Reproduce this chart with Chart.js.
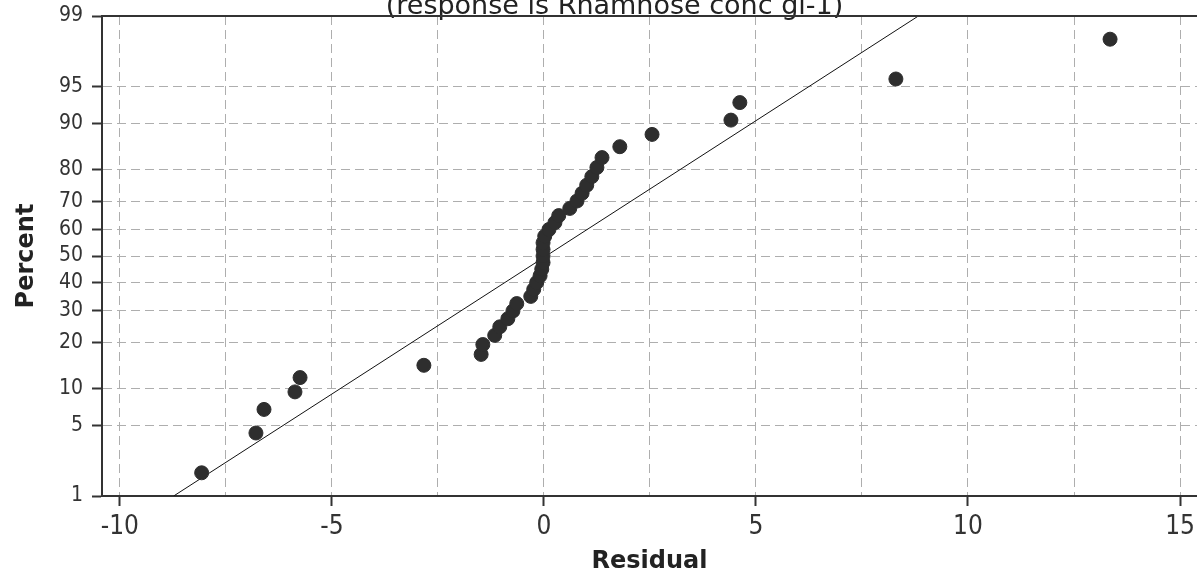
<!DOCTYPE html>
<html>
<head>
<meta charset="utf-8">
<script src="https://cdn.jsdelivr.net/npm/chart.js@4.4.0/dist/chart.umd.min.js"></script>
<style>
  html, body { margin: 0; padding: 0; background: #fff; overflow: hidden; }
  #wrap { position: relative; width: 1197px; height: 577px; }
</style>
</head>
<body>
<div id="wrap"><canvas id="probPlot" width="1197" height="577"></canvas></div>
<script>
// normal probability plot of residuals (percent axis is a normal-quantile scale)
const subtitle = '(response is Rhamnose conc gl-1)';

const residuals = [
  -8.07, -6.79, -6.60, -5.87, -5.75, -2.83, -1.48, -1.44, -1.16, -1.04,
  -0.85, -0.73, -0.64, -0.31, -0.24, -0.17, -0.09, -0.05, -0.02, -0.02,
  -0.02, -0.02, 0.02, 0.12, 0.26, 0.35, 0.61, 0.78, 0.90, 1.01,
  1.13, 1.25, 1.37, 1.79, 2.55, 4.41, 4.62, 8.30, 13.35
];
const percents = [
  1.78, 4.31, 6.85, 9.39, 11.93, 14.47, 17.01, 19.54, 22.08, 24.62,
  27.16, 29.70, 32.23, 34.77, 37.31, 39.85, 42.39, 44.92, 47.46, 50.00,
  52.54, 55.08, 57.61, 60.15, 62.69, 65.23, 67.77, 70.30, 72.84, 75.38,
  77.92, 80.46, 82.99, 85.53, 88.07, 90.61, 93.15, 95.69, 98.22
];

const fitResidual = [-8.73, 8.83];
const fitPercent = [1, 99];

const xTicks = [-10, -7.5, -5, -2.5, 0, 2.5, 5, 7.5, 10, 12.5, 15];
const xTickLabels = ['-10', '', '-5', '', '0', '', '5', '', '10', '', '15'];
const yTickPercents = [1, 5, 10, 20, 30, 40, 50, 60, 70, 80, 90, 95, 99];

// inverse normal cdf (Acklam)
function probit(pct) {
  const p = pct / 100;
  const a = [-3.969683028665376e+01, 2.209460984245205e+02, -2.759285104469687e+02, 1.383577518672690e+02, -3.066479806614716e+01, 2.506628277459239e+00];
  const b = [-5.447609879822406e+01, 1.615858368580409e+02, -1.556989798598866e+02, 6.680131188771972e+01, -1.328068155288572e+01];
  const c = [-7.784894002430293e-03, -3.223964580411365e-01, -2.400758277161838e+00, -2.549732539343734e+00, 4.374664141464968e+00, 2.938163982698783e+00];
  const d = [7.784695709041462e-03, 3.224671290700398e-01, 2.445134137142996e+00, 3.754408661907416e+00];
  const pl = 0.02425;
  let q, r;
  if (p < pl) {
    q = Math.sqrt(-2 * Math.log(p));
    return (((((c[0]*q+c[1])*q+c[2])*q+c[3])*q+c[4])*q+c[5]) / ((((d[0]*q+d[1])*q+d[2])*q+d[3])*q+1);
  }
  if (p > 1 - pl) {
    q = Math.sqrt(-2 * Math.log(1 - p));
    return -(((((c[0]*q+c[1])*q+c[2])*q+c[3])*q+c[4])*q+c[5]) / ((((d[0]*q+d[1])*q+d[2])*q+d[3])*q+1);
  }
  q = p - 0.5;
  r = q * q;
  return (((((a[0]*r+a[1])*r+a[2])*r+a[3])*r+a[4])*r+a[5])*q / (((((b[0]*r+b[1])*r+b[2])*r+b[3])*r+b[4])*r+1);
}

const tickFont = "'DejaVu Sans Condensed', 'DejaVu Sans', sans-serif";
const gridColor = '#aeaeae';
const axisColor = '#333';

const frameAndSubtitle = {
  id: 'frameAndSubtitle',
  afterDraw(chart) {
    const { ctx, chartArea } = chart;
    ctx.save();
    ctx.font = "27px 'DejaVu Sans', sans-serif";
    ctx.fillStyle = '#222';
    ctx.textAlign = 'center';
    ctx.textBaseline = 'alphabetic';
    ctx.fillText(subtitle, (chartArea.left + chartArea.right) / 2 - 35, chartArea.top - 2);
    ctx.strokeStyle = axisColor;
    ctx.lineWidth = 2;
    ctx.beginPath();
    ctx.moveTo(chartArea.left, chartArea.top);
    ctx.lineTo(chartArea.right, chartArea.top);
    ctx.stroke();
    ctx.restore();
  }
};

const ctx = document.getElementById('probPlot').getContext('2d');

new Chart(ctx, {
  type: 'scatter',
  data: {
    datasets: [
      {
        label: 'Fit',
        type: 'line',
        data: fitResidual.map((x, i) => ({ x: x, y: probit(fitPercent[i]) })),
        borderColor: '#111',
        borderWidth: 1,
        pointRadius: 0,
        fill: false,
        order: 2
      },
      {
        label: 'Residuals',
        data: residuals.map((x, i) => ({ x: x, y: probit(percents[i]) })),
        backgroundColor: '#2e2e2e',
        borderColor: '#2e2e2e',
        pointRadius: 7,
        pointHoverRadius: 7,
        order: 1
      }
    ]
  },
  options: {
    responsive: false,
    animation: false,
    layout: { autoPadding: false, padding: { top: 16, left: 4, right: 0, bottom: 0 } },
    plugins: {
      legend: { display: false },
      tooltip: { enabled: false }
    },
    scales: {
      x: {
        type: 'linear',
        min: -10.42,
        max: 15.4,
        afterBuildTicks: axis => { axis.ticks = xTicks.map(v => ({ value: v })); },
        afterFit: axis => { axis.height = 81; axis.paddingLeft = 0; axis.paddingRight = 0; },
        ticks: {
          autoSkip: false,
          maxRotation: 0,
          padding: 6,
          color: '#333',
          font: { family: tickFont, size: 26 },
          callback: (v, i) => xTickLabels[i]
        },
        grid: {
          color: gridColor,
          lineWidth: 1,
          tickLength: 10,
          tickWidth: 2,
          tickColor: c => (c.tick && c.tick.value % 5 === 0) ? axisColor : 'rgba(0,0,0,0)'
        },
        border: { color: axisColor, width: 2, dash: [9, 5] },
        title: {
          display: true,
          text: 'Residual',
          color: '#222',
          font: { family: "'DejaVu Sans', sans-serif", size: 24, weight: 'bold' },
          padding: { top: 0, bottom: 1 }
        }
      },
      y: {
        type: 'linear',
        min: probit(1),
        max: probit(99),
        afterBuildTicks: axis => { axis.ticks = yTickPercents.map(p => ({ value: probit(p) })); },
        afterFit: axis => { axis.width = 98; axis.paddingTop = 0; axis.paddingBottom = 0; },
        ticks: {
          autoSkip: false,
          padding: 9,
          color: '#333',
          font: { family: tickFont, size: 21 },
          callback: (v, i) => String(yTickPercents[i])
        },
        grid: {
          color: gridColor,
          lineWidth: 1,
          tickLength: 10,
          tickWidth: 2,
          tickColor: axisColor
        },
        border: { color: axisColor, width: 2, dash: [9, 5] },
        title: {
          display: true,
          text: 'Percent',
          color: '#222',
          font: { family: "'DejaVu Sans', sans-serif", size: 24, weight: 'bold' },
          padding: { top: 8.6, bottom: 0 }
        }
      }
    }
  },
  plugins: [frameAndSubtitle]
});
</script>
</body>
</html>
